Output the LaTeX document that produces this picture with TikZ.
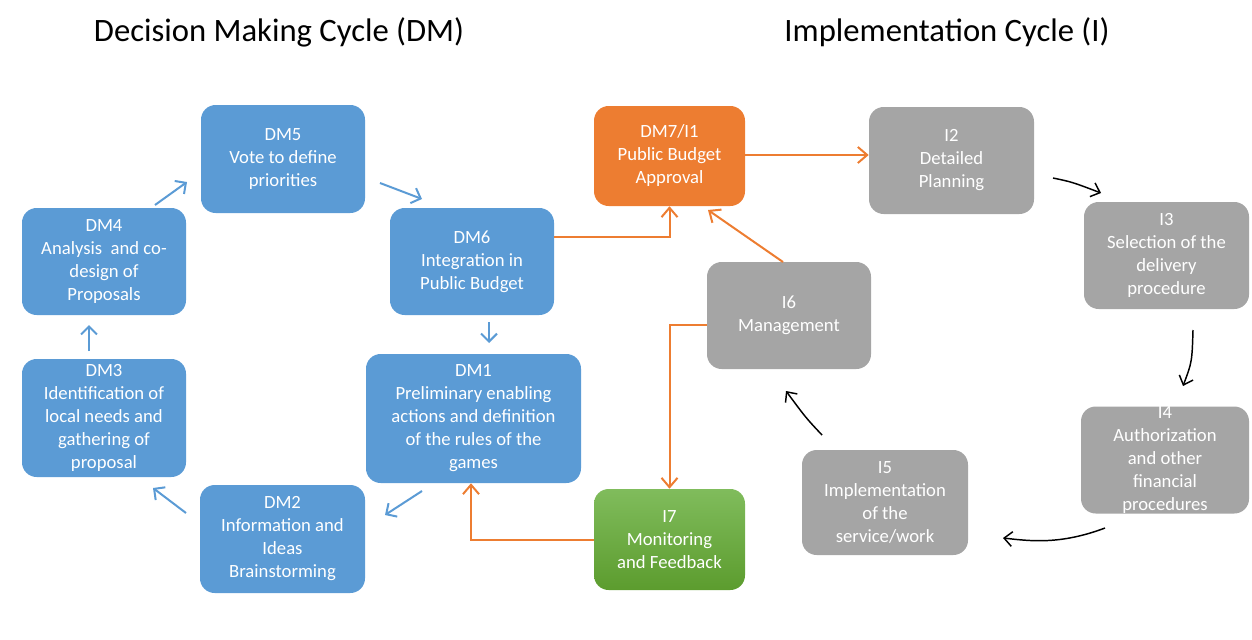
\documentclass[tikz,border=0pt]{standalone}
\usepackage{fontspec}
\setmainfont{Carlito}
\usetikzlibrary{arrows.meta}
\definecolor{dmblue}{HTML}{5B9BD5}
\definecolor{iorange}{HTML}{ED7D31}
\definecolor{igray}{HTML}{A5A5A5}
\definecolor{gtop}{HTML}{80BC5C}
\definecolor{gbot}{HTML}{5C9C2E}
\begin{document}
\begin{tikzpicture}[x=0.75pt,y=-0.75pt,
  box/.style={rounded corners=11pt, text=white, align=center, inner sep=0pt,
    font=\fontsize{14}{17.25}\selectfont},
  bluebox/.style={box, fill=dmblue},
  orangebox/.style={box, fill=iorange},
  graybox/.style={box, fill=igray},
  greenbox/.style={box, top color=gtop, bottom color=gbot},
  titletext/.style={font=\fontsize{24.5}{28}\selectfont, text=black, inner sep=0pt},
  barrow/.style={draw=dmblue, line width=1.5pt, -{Straight Barb[length=6pt,width=12pt]}},
  oarrow/.style={draw=iorange, line width=1.5pt, -{Straight Barb[length=7pt,width=12pt]}},
  karrow/.style={draw=black, line width=1.1pt, -{Straight Barb[length=6pt,width=11pt]}}
]
\useasboundingbox (0,0) rectangle (1252,639);

% titles
\node[titletext] (t1) at (279,32) {Decision Making Cycle (DM)};
\node[titletext] (t2) at (947,32) {Implementation Cycle (I)};

% DM boxes
\node[bluebox, minimum width=123pt, minimum height=81pt] (DM5) at (283,159) {DM5\\Vote to define\\priorities};
\node[bluebox, minimum width=123pt, minimum height=80.25pt] (DM4) at (104,261.5) {DM4\\Analysis \ and co-\\design of\\Proposals};
\node[bluebox, minimum width=123pt, minimum height=80.25pt] (DM6) at (472,261.5) {DM6\\Integration in\\Public Budget};
\node[bluebox, minimum width=123pt, minimum height=88.5pt] (DM3) at (104,418) {DM3\\Identification of\\local needs and\\gathering of\\proposal};
\node[bluebox, minimum width=161.25pt, minimum height=96.75pt] (DM1) at (473.5,418.5) {DM1\\Preliminary enabling\\actions and definition\\of the rules of the\\games};
\node[bluebox, minimum width=123.75pt, minimum height=81pt] (DM2) at (282.5,539) {DM2\\Information and\\Ideas\\Brainstorming};

% I boxes
\node[orangebox, minimum width=113.25pt, minimum height=75pt] (DM7) at (669.5,156) {DM7/I1\\Public Budget\\Approval};
\node[graybox, minimum width=123.75pt, minimum height=80.25pt] (I2) at (951.5,160.5) {I2\\Detailed\\Planning};
\node[graybox, minimum width=123.75pt, minimum height=80.25pt] (I3) at (1166.5,255.5) {I3\\Selection of the\\delivery\\procedure};
\node[graybox, minimum width=123pt, minimum height=80.25pt] (I6) at (789,315.5) {I6\\Management};
\node[graybox, minimum width=126pt, minimum height=79.5pt] (I4) at (1165,460) {I4\\Authorization\\and other\\financial\\procedures};
\node[graybox, minimum width=124.5pt, minimum height=78.75pt] (I5) at (885,502.5) {I5\\Implementation\\of the\\service/work};
\node[greenbox, minimum width=113.25pt, minimum height=75.75pt] (I7) at (669.5,539.5) {I7\\Monitoring\\and Feedback};

% blue arrows (DM cycle)
\coordinate (b1s) at (155,205); \coordinate (b1e) at (187,182);
\coordinate (b2s) at (380,183); \coordinate (b2e) at (422,199);
\coordinate (b3s) at (489,322); \coordinate (b3e) at (489,343);
\coordinate (b4s) at (422,491); \coordinate (b4e) at (385,515);
\coordinate (b5s) at (186,513); \coordinate (b5e) at (153,488);
\coordinate (b6s) at (89,351);  \coordinate (b6e) at (89,325);
\draw[barrow] (b1s) -- (b1e);
\draw[barrow] (b2s) -- (b2e);
\draw[barrow] (b3s) -- (b3e);
\draw[barrow] (b4s) -- (b4e);
\draw[barrow] (b5s) -- (b5e);
\draw[barrow] (b6s) -- (b6e);

% orange connectors
\draw[oarrow] (DM6.east |- 0,237) -| (DM7.south);
\coordinate (o2s) at (783,262); \coordinate (o2e) at (708,210);
\draw[oarrow] (o2s) -- (o2e);
\draw[oarrow] (DM7.east |- 0,155) -- (I2.west |- 0,155);
\draw[oarrow] (I6.west |- 0,325) -| (I7.north);
\draw[oarrow] (I7.west |- 0,540) -| (DM1.south -| 471,0);

% black curved arrows (implementation cycle)
\coordinate (k1s) at (1053,178); \coordinate (k1e) at (1101,193);
\coordinate (k2s) at (1193,330); \coordinate (k2e) at (1183,386);
\coordinate (k3s) at (1105,528); \coordinate (k3e) at (1003,538);
\coordinate (k4s) at (822,435);  \coordinate (k4e) at (786,391);
\draw[karrow] (k1s) .. controls (1072,182) .. (k1e);
\draw[karrow] (k2s) .. controls (1192,362) .. (k2e);
\draw[karrow] (k3s) .. controls (1060,545) and (1030,541) .. (k3e);
\draw[karrow] (k4s) .. controls (806,418) .. (k4e);
\end{tikzpicture}
\end{document}
